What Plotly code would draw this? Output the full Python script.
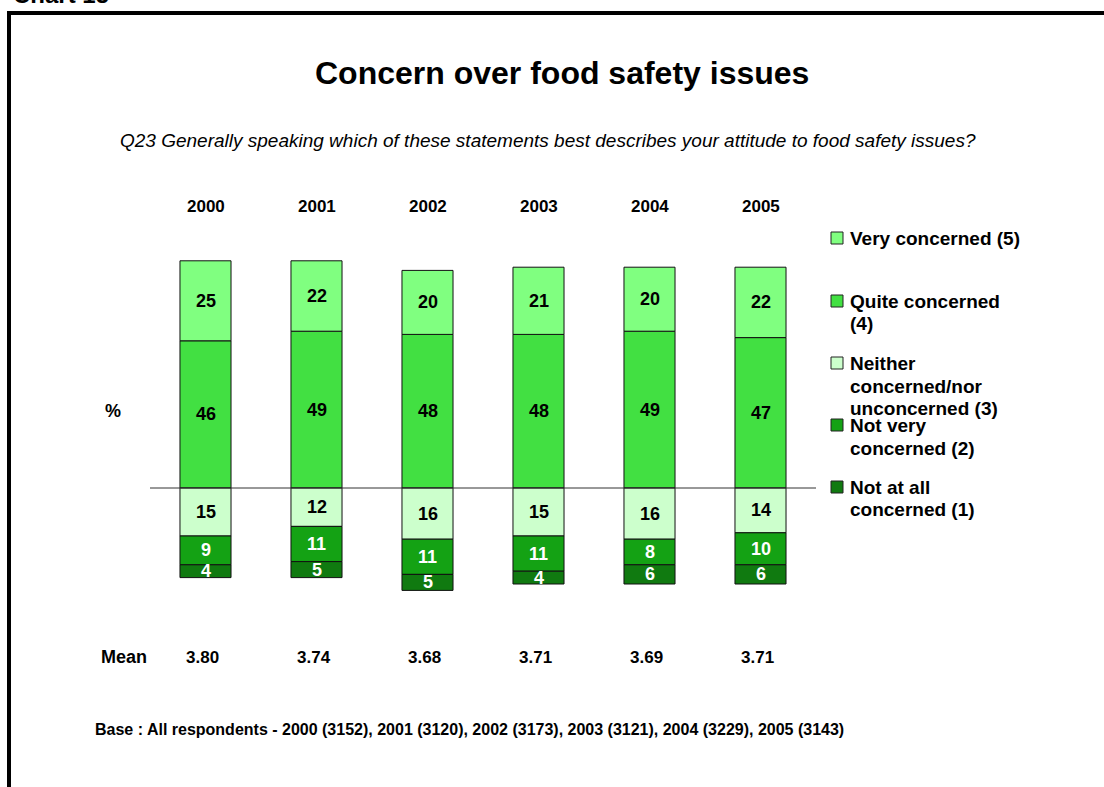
import plotly.graph_objects as go

# Survey results by year (percent of respondents)
years = ["2000", "2001", "2002", "2003", "2004", "2005"]
very_concerned = [25, 22, 20, 21, 20, 22]
quite_concerned = [46, 49, 48, 48, 49, 47]
neither = [15, 12, 16, 15, 16, 14]
not_very = [9, 11, 11, 11, 8, 10]
not_at_all = [4, 5, 5, 4, 6, 6]
means = ["3.80", "3.74", "3.68", "3.71", "3.69", "3.71"]
bases = ["3152", "3120", "3173", "3121", "3229", "3143"]

# Legend entries, one list of text lines per series
legend_lines = [
    ["Very concerned (5)"],
    ["Quite concerned", "(4)"],
    ["Neither", "concerned/nor", "unconcerned (3)"],
    ["Not very", "concerned (2)"],
    ["Not at all", "concerned (1)"],
]
colors = ["#80FF80", "#42E042", "#CCFFCC", "#14A214", "#107A10"]

FONT = "Liberation Sans, Arial, sans-serif"
W, H = 1104, 787
ML, MR, MT, MB = 150, 288, 232, 171
PW, PH = W - ML - MR, H - MT - MB
Y_MIN, Y_MAX = -40, 80


def px_x(p):
    return (p - ML) / PW


def px_y(p):
    return (H - MB - p) / PH


def label(text, x, y, size, xref="paper", yref="paper", xanchor="center",
          yanchor="middle", color="black", **kw):
    return dict(x=x, y=y, xref=xref, yref=yref, xanchor=xanchor,
                yanchor=yanchor, text=text, showarrow=False,
                font=dict(family=kw.pop("family", FONT), size=size, color=color),
                **kw)


fig = go.Figure()

# Positive side: quite concerned at the base, very concerned on top;
# negative side stacks neither, not very, not at all downward.
stack = [
    (quite_concerned, 1, colors[1]),
    (very_concerned, 1, colors[0]),
    (neither, -1, colors[2]),
    (not_very, -1, colors[3]),
    (not_at_all, -1, colors[4]),
]
for vals, sign, col in stack:
    fig.add_trace(go.Bar(
        x=years, y=[sign * v for v in vals],
        marker=dict(color=col, line=dict(color="#111111", width=1)),
        width=0.46, showlegend=False, hoverinfo="skip",
    ))

annotations = []
for i, yr in enumerate(years):
    pos = [(quite_concerned[i], "black"), (very_concerned[i], "black")]
    neg = [(neither[i], "black"), (not_very[i], "white"), (not_at_all[i], "white")]
    base = 0
    for v, c in pos:
        annotations.append(label(f"<b>{v}</b>", i, base + v / 2, 18,
                                 xref="x", yref="y", color=c))
        base += v
    base = 0
    for v, c in neg:
        annotations.append(label(f"<b>{v}</b>", i, -(base + v / 2), 18,
                                 xref="x", yref="y", color=c))
        base += v
    # Year header and mean row
    annotations.append(label(f"<b>{yr}</b>", i, px_y(206), 17, xref="x"))
    annotations.append(label(f"<b>{means[i]}</b>", i, px_y(657), 17,
                             xref="x", xshift=-3))

annotations += [
    label("<b>Chart 15</b>", px_x(11), px_y(10), 24, xanchor="left",
          yanchor="bottom"),
    label("<b>Concern over food safety issues</b>", px_x(562), px_y(73), 32),
    label("<i>Q23 Generally speaking which of these statements best describes "
          "your attitude to food safety issues?</i>",
          px_x(118), px_y(140), 19, xanchor="left"),
    label("<b>%</b>", px_x(113), px_y(411), 18),
    label("<b>Mean</b>", px_x(124), px_y(657), 18),
    label("<b>Base : All respondents - " + ", ".join(
        f"{y} ({b})" for y, b in zip(years, bases)) + "</b>",
        px_x(93), px_y(729), 16, xanchor="left"),
]

# Legend swatches and labels
shapes = []
row_lines = [[238], [301, 323], [363, 386, 408], [425, 448], [487, 509]]
for lines, col, ys in zip(legend_lines, colors, row_lines):
    shapes.append(dict(
        type="rect", xref="paper", yref="paper",
        x0=px_x(831), x1=px_x(843), y0=px_y(ys[0] + 6), y1=px_y(ys[0] - 6),
        fillcolor=col, line=dict(color="#222222", width=1),
    ))
    for txt, ly in zip(lines, ys):
        annotations.append(label(f"<b>{txt}</b>", px_x(848), px_y(ly), 19,
                                 xanchor="left"))

# Zero baseline across the plot
shapes.append(dict(type="line", xref="paper", yref="y", x0=0, x1=1, y0=0, y1=0,
                   line=dict(color="#333333", width=1)))
# Page frame (top and left edges)
shapes.append(dict(type="path", xref="paper", yref="paper",
                   path=f"M {px_x(9)} {px_y(800)} L {px_x(9)} {px_y(13)} "
                        f"L {px_x(1120)} {px_y(13)}",
                   line=dict(color="black", width=4)))

fig.update_layout(
    width=W, height=H,
    margin=dict(l=ML, r=MR, t=MT, b=MB, pad=0),
    barmode="relative",
    plot_bgcolor="white", paper_bgcolor="white",
    xaxis=dict(type="category", range=[-0.5, 5.5], showticklabels=False,
               showgrid=False, zeroline=False, showline=False, ticks=""),
    yaxis=dict(range=[Y_MIN, Y_MAX], showticklabels=False, showgrid=False,
               zeroline=False, showline=False, ticks=""),
    annotations=annotations,
    shapes=shapes,
    showlegend=False,
)

fig.write_html("out.html")
